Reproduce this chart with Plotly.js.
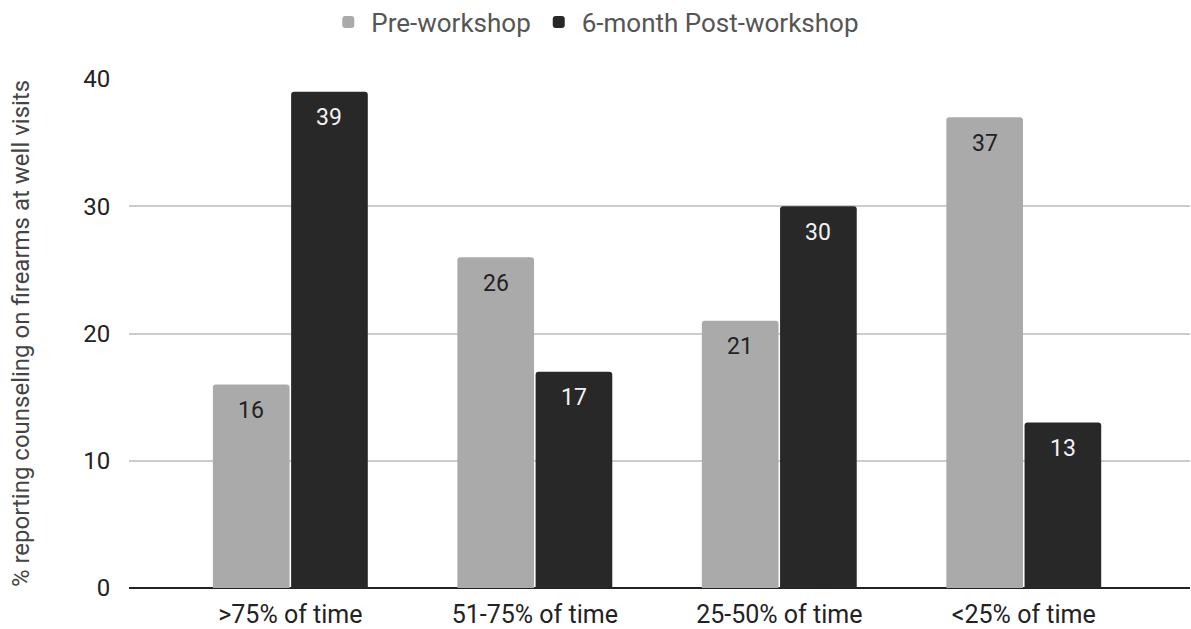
<!DOCTYPE html>
<html>
<head>
<meta charset="utf-8">
<script src="https://cdn.plot.ly/plotly-3.0.1.min.js"></script>
<style>html,body{margin:0;padding:0;background:#fff;}#chart{width:1191px;height:629px;}</style>
</head>
<body>
<div id="chart"></div>
<script>
const categories = [">75% of time", "51-75% of time", "25-50% of time", "<25% of time"];
const preWorkshop = [16, 26, 21, 37];
const postWorkshop = [39, 17, 30, 13];
const seriesNames = ["Pre-workshop", "6-month Post-workshop"];
const yTicks = [0, 10, 20, 30, 40];

const font = "Roboto, 'Noto Sans', Arial, sans-serif";

const traces = [
  {type: "bar", name: seriesNames[0], x: categories, y: preWorkshop,
   marker: {color: "#aaaaaa", cornerradius: 3}, hoverinfo: "x+y"},
  {type: "bar", name: seriesNames[1], x: categories, y: postWorkshop,
   marker: {color: "#282828", cornerradius: 3}, hoverinfo: "x+y"}
];

const annotations = [];
categories.forEach((c, i) => {
  annotations.push({x: c, y: preWorkshop[i], xref: "x", yref: "y", text: String(preWorkshop[i]),
    showarrow: false, xshift: -39, yshift: -26, font: {family: font, size: 23, color: "#222"}});
  annotations.push({x: c, y: postWorkshop[i], xref: "x", yref: "y", text: String(postWorkshop[i]),
    showarrow: false, xshift: 39, yshift: -26, font: {family: font, size: 23, color: "#f2f2f2"}});
});

const layout = {
  width: 1191, height: 629,
  margin: {l: 129, r: 1, t: 79, b: 41, pad: 0, autoexpand: false},
  paper_bgcolor: "#fff", plot_bgcolor: "#fff",
  font: {family: font, size: 23, color: "#222"},
  barmode: "group", bargap: 0.36, bargroupgap: 0.02,
  showlegend: true,
  legend: {orientation: "h", x: 0.439, xanchor: "center", y: 1.112, yanchor: "middle",
    font: {family: font, size: 26, color: "#555"}, itemclick: false, itemwidth: 36},
  xaxis: {type: "category", range: [-0.66, 3.68], showgrid: false, zeroline: false,
    showline: false, ticks: "outside", ticklen: 4, tickcolor: "rgba(0,0,0,0)",
    tickfont: {family: font, size: 25, color: "#222"}, fixedrange: true},
  yaxis: {range: [0, 40], tickvals: yTicks, showgrid: true, gridcolor: "#cccccc", gridwidth: 2,
    zeroline: true, zerolinecolor: "#222", zerolinewidth: 2, showline: false,
    ticks: "outside", ticklen: 13, tickcolor: "rgba(0,0,0,0)",
    tickfont: {family: font, size: 24, color: "#222"},
    title: {text: "% reporting counseling on firearms at well visits", standoff: 46,
      font: {family: font, size: 24, color: "#444"}}, fixedrange: true},
  annotations: annotations
};

Plotly.newPlot("chart", traces, layout, {displayModeBar: false, staticPlot: true});
</script>
</body>
</html>
